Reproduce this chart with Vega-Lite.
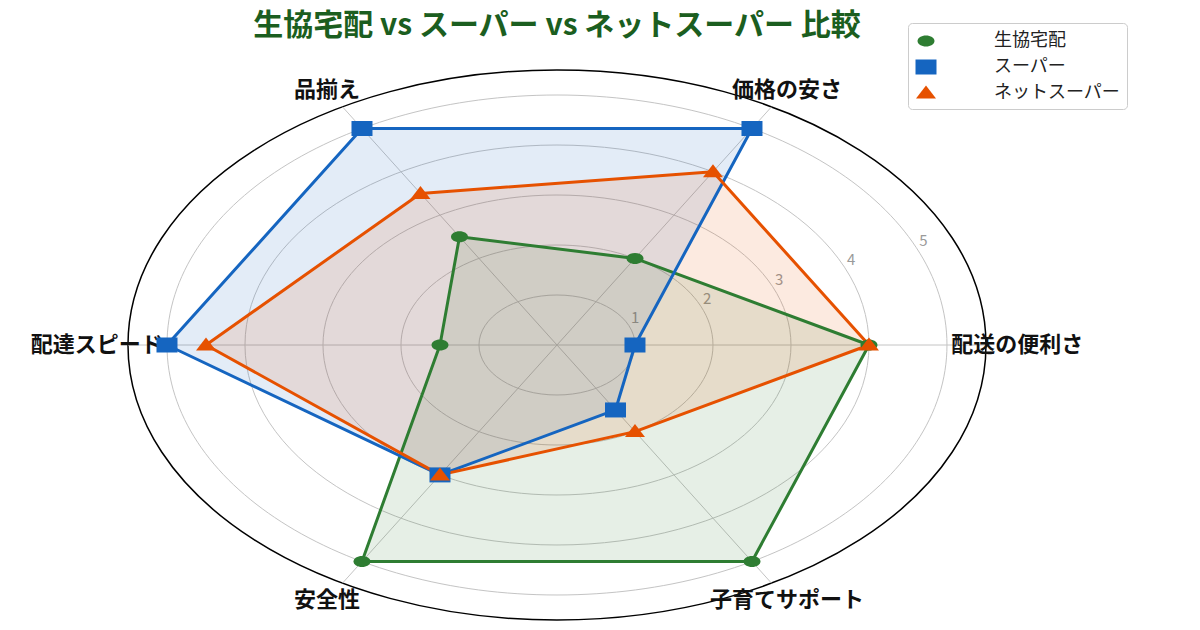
{
  "$schema": "https://vega.github.io/schema/vega-lite/v6.json",
  "width": 1200,
  "height": 630,
  "autosize": {"type": "none"},
  "padding": 0,
  "background": "white",
  "config": {"view": {"stroke": null}, "font": "Noto Sans CJK JP"},
  "title": {
    "text": "生協宅配 vs スーパー vs ネットスーパー 比較",
    "font": "Noto Sans CJK JP",
    "fontSize": 30,
    "fontWeight": "bold",
    "color": "#1b5e20",
    "anchor": "middle",
    "offset": -41,
    "dx": -43
  },
  "datasets": {
    "scores": [
      {"service": "生協宅配", "item": "配送の便利さ", "score": 4},
      {"service": "生協宅配", "item": "価格の安さ", "score": 2},
      {"service": "生協宅配", "item": "品揃え", "score": 2.5},
      {"service": "生協宅配", "item": "配達スピード", "score": 1.5},
      {"service": "生協宅配", "item": "安全性", "score": 5},
      {"service": "生協宅配", "item": "子育てサポート", "score": 5},
      {"service": "スーパー", "item": "配送の便利さ", "score": 1},
      {"service": "スーパー", "item": "価格の安さ", "score": 5},
      {"service": "スーパー", "item": "品揃え", "score": 5},
      {"service": "スーパー", "item": "配達スピード", "score": 5},
      {"service": "スーパー", "item": "安全性", "score": 3},
      {"service": "スーパー", "item": "子育てサポート", "score": 1.5},
      {"service": "ネットスーパー", "item": "配送の便利さ", "score": 4},
      {"service": "ネットスーパー", "item": "価格の安さ", "score": 4},
      {"service": "ネットスーパー", "item": "品揃え", "score": 3.5},
      {"service": "ネットスーパー", "item": "配達スピード", "score": 4.5},
      {"service": "ネットスーパー", "item": "安全性", "score": 3},
      {"service": "ネットスーパー", "item": "子育てサポート", "score": 2}
    ],
    "cats": [
      {"item": "配送の便利さ"},
      {"item": "価格の安さ"},
      {"item": "品揃え"},
      {"item": "配達スピード"},
      {"item": "安全性"},
      {"item": "子育てサポート"}
    ],
    "rings": [
      {"r": 1}, {"r": 2}, {"r": 3}, {"r": 4}, {"r": 5}, {"r": 5.5}
    ]
  },
  "layer": [
    {
      "data": {"name": "rings"},
      "mark": {"type": "point", "shape": "M-1,0A1,0.641 0 1,0 1,0A1,0.641 0 1,0 -1,0Z", "filled": false, "opacity": 1},
      "encoding": {
        "x": {"datum": 0, "type": "quantitative", "scale": {"domain": [-7.141, 8.244], "nice": false, "zero": false}, "axis": null},
        "y": {"datum": 0, "type": "quantitative", "scale": {"domain": [-5.7, 6.9], "nice": false, "zero": false}, "axis": null},
        "size": {"field": "r", "type": "quantitative", "scale": {"type": "pow", "exponent": 2, "domain": [0, 5.5], "range": [0, 736164]}, "legend": null},
        "stroke": {"condition": {"test": "datum.r > 5", "value": "#000000"}, "value": "#c4c4c4"},
        "strokeWidth": {"condition": {"test": "datum.r > 5", "value": 1.5}, "value": 1}
      }
    },
    {
      "data": {"name": "cats"},
      "transform": [
        {"calculate": "indexof(['配送の便利さ','価格の安さ','品揃え','配達スピード','安全性','子育てサポート'], datum.item) * PI / 3", "as": "angle"},
        {"calculate": "5.5 * cos(datum.angle)", "as": "ex"},
        {"calculate": "5.5 * sin(datum.angle)", "as": "ey"}
      ],
      "mark": {"type": "rule", "stroke": "#c4c4c4", "strokeWidth": 1},
      "encoding": {
        "x": {"field": "ex", "type": "quantitative", "scale": {"domain": [-7.141, 8.244], "nice": false, "zero": false}, "axis": null},
        "y": {"field": "ey", "type": "quantitative", "scale": {"domain": [-5.7, 6.9], "nice": false, "zero": false}, "axis": null},
        "x2": {"datum": 0},
        "y2": {"datum": 0}
      }
    },
    {
      "data": {"name": "rings"},
      "transform": [
        {"filter": "datum.r <= 5"},
        {"calculate": "datum.r * cos(PI / 8)", "as": "tx"},
        {"calculate": "datum.r * sin(PI / 8)", "as": "ty"}
      ],
      "mark": {"type": "text", "fontSize": 15, "color": "#9a9a9a", "dx": 6, "dy": -8, "align": "center", "baseline": "middle"},
      "encoding": {
        "x": {"field": "tx", "type": "quantitative", "scale": {"domain": [-7.141, 8.244], "nice": false, "zero": false}, "axis": null},
        "y": {"field": "ty", "type": "quantitative", "scale": {"domain": [-5.7, 6.9], "nice": false, "zero": false}, "axis": null},
        "text": {"field": "r", "type": "quantitative"}
      }
    },
    {
      "data": {"name": "cats"},
      "transform": [
        {"calculate": "indexof(['配送の便利さ','価格の安さ','品揃え','配達スピード','安全性','子育てサポート'], datum.item) * PI / 3", "as": "angle"},
        {"calculate": "5.9 * cos(datum.angle)", "as": "lx"},
        {"calculate": "5.9 * sin(datum.angle)", "as": "ly"}
      ],
      "mark": {"type": "text", "fontSize": 22, "fontWeight": "bold", "color": "#111111", "align": "center", "baseline": "middle"},
      "encoding": {
        "x": {"field": "lx", "type": "quantitative", "scale": {"domain": [-7.141, 8.244], "nice": false, "zero": false}, "axis": null},
        "y": {"field": "ly", "type": "quantitative", "scale": {"domain": [-5.7, 6.9], "nice": false, "zero": false}, "axis": null},
        "text": {"field": "item", "type": "nominal"}
      }
    },
    {
      "data": {"name": "scores"},
      "transform": [
        {"calculate": "indexof(['配送の便利さ','価格の安さ','品揃え','配達スピード','安全性','子育てサポート'], datum.item) * PI / 3", "as": "angle"},
        {"calculate": "datum.score * cos(datum.angle)", "as": "x"},
        {"calculate": "datum.score * sin(datum.angle)", "as": "y"}
      ],
      "mark": {"type": "line", "interpolate": "linear-closed", "strokeOpacity": 0, "fillOpacity": 0.12},
      "encoding": {
        "x": {"field": "x", "type": "quantitative", "scale": {"domain": [-7.141, 8.244], "nice": false, "zero": false}, "axis": null},
        "y": {"field": "y", "type": "quantitative", "scale": {"domain": [-5.7, 6.9], "nice": false, "zero": false}, "axis": null},
        "fill": {"field": "service", "type": "nominal", "scale": {"domain": ["スーパー", "ネットスーパー", "生協宅配"], "range": ["#1565c0", "#e65100", "#2e7d32"]}, "legend": null},
        "detail": {"field": "service", "type": "nominal"},
        "order": {"field": "angle", "type": "quantitative"}
      }
    },
    {
      "data": {"name": "scores"},
      "transform": [
        {"calculate": "indexof(['配送の便利さ','価格の安さ','品揃え','配達スピード','安全性','子育てサポート'], datum.item) * PI / 3", "as": "angle"},
        {"calculate": "datum.score * cos(datum.angle)", "as": "x"},
        {"calculate": "datum.score * sin(datum.angle)", "as": "y"}
      ],
      "mark": {"type": "line", "interpolate": "linear-closed", "strokeWidth": 3, "strokeJoin": "round"},
      "encoding": {
        "x": {"field": "x", "type": "quantitative", "scale": {"domain": [-7.141, 8.244], "nice": false, "zero": false}, "axis": null},
        "y": {"field": "y", "type": "quantitative", "scale": {"domain": [-5.7, 6.9], "nice": false, "zero": false}, "axis": null},
        "stroke": {"field": "service", "type": "nominal", "scale": {"domain": ["スーパー", "ネットスーパー", "生協宅配"], "range": ["#1565c0", "#e65100", "#2e7d32"]}, "legend": null},
        "order": {"field": "angle", "type": "quantitative"}
      }
    },
    {
      "data": {"name": "scores"},
      "transform": [
        {"calculate": "indexof(['配送の便利さ','価格の安さ','品揃え','配達スピード','安全性','子育てサポート'], datum.item) * PI / 3", "as": "angle"},
        {"calculate": "datum.score * cos(datum.angle)", "as": "x"},
        {"calculate": "datum.score * sin(datum.angle)", "as": "y"}
      ],
      "mark": {"type": "point", "filled": true, "size": 400, "opacity": 1},
      "encoding": {
        "x": {"field": "x", "type": "quantitative", "scale": {"domain": [-7.141, 8.244], "nice": false, "zero": false}, "axis": null},
        "y": {"field": "y", "type": "quantitative", "scale": {"domain": [-5.7, 6.9], "nice": false, "zero": false}, "axis": null},
        "color": {
          "field": "service",
          "type": "nominal",
          "scale": {"domain": ["生協宅配", "スーパー", "ネットスーパー"], "range": ["#2e7d32", "#1565c0", "#e65100"]},
          "legend": {
            "title": null,
            "orient": "none",
            "legendX": 908,
            "legendY": 23,
            "symbolSize": 400,
            "labelOffset": 57,
            "padding": 7,
            "rowPadding": 6,
            "strokeColor": "#cccccc",
            "fillColor": "rgba(255,255,255,0.85)",
            "cornerRadius": 4,
            "labelFontSize": 18,
            "labelFont": "Noto Sans CJK JP",
            "labelColor": "#222222"
          }
        },
        "shape": {
          "field": "service",
          "type": "nominal",
          "scale": {"domain": ["生協宅配", "スーパー", "ネットスーパー"], "range": ["M-0.85,0A0.85,0.55 0 1,0 0.85,0A0.85,0.55 0 1,0 -0.85,0Z", "M-1.05,-0.75H1.05V0.75H-1.05Z", "M0,-0.75L1,0.55H-1Z"]}
        }
      }
    }
  ]
}
